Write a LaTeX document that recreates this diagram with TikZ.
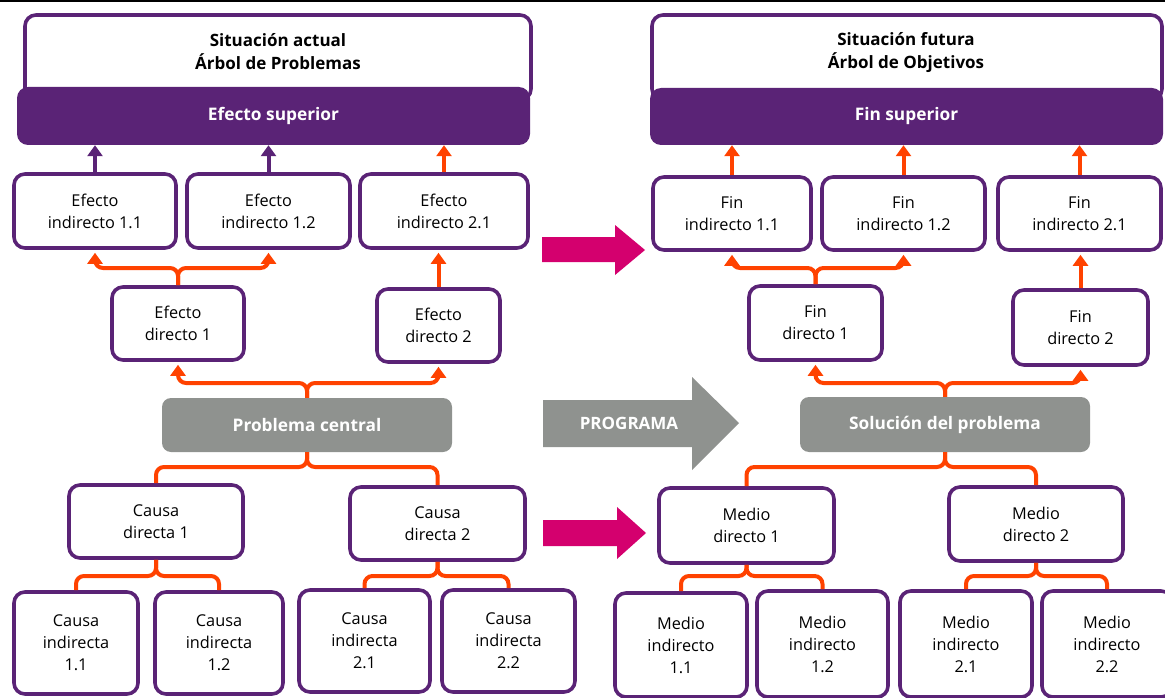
\documentclass[tikz,border=0pt]{standalone}
\usepackage{fontspec}
\setmainfont{Open Sans}
\usetikzlibrary{arrows.meta}
\definecolor{purp}{HTML}{5A2376}
\definecolor{org}{HTML}{FF4200}
\definecolor{gry}{HTML}{8F928F}
\definecolor{mag}{HTML}{D4006E}
\tikzset{
 box/.style={draw=purp, line width=3.6pt, fill=white, rounded corners=11pt, align=center,
   font=\fontsize{16.3}{22}\selectfont, text=black, inner sep=0pt},
 bar/.style={fill=purp, rounded corners=11pt, font=\bfseries\fontsize{17.3}{20}\selectfont, text=white, inner sep=0pt},
 core/.style={fill=gry, rounded corners=9pt, font=\bfseries\fontsize{17.3}{20}\selectfont, text=white, inner sep=0pt},
 ttl/.style={align=center, font=\bfseries\fontsize{17}{23}\selectfont, text=black, inner sep=0pt},
 conn/.style={draw=org, line width=4pt, rounded corners=8pt, -{Triangle[width=15pt,length=11pt]}},
 pconn/.style={conn, draw=purp},
 link/.style={draw=org, line width=4pt, rounded corners=8pt},
 bigarrow/.style={fill=mag},
}
\begin{document}
\begin{tikzpicture}[x=1pt,y=-1pt]
\useasboundingbox (0,0) rectangle (1165,698);
\clip (0,0) rectangle (1165,698);
\fill[black] (0,0) rectangle (1165,2.5);
% ---------- left: title
\node[box, minimum width=506pt, minimum height=85pt] (T1box) at (278,57.5) {};
\node[ttl] (T1) at (278,51.5) {Situación actual\\Árbol de Problemas};
\node[bar, minimum width=513pt, minimum height=58pt] (B1) at (273.5,116) {Efecto superior};
% ---------- right: title
\node[box, minimum width=510pt, minimum height=85pt] (T2box) at (907,57.5) {};
\node[ttl] (T2) at (906,52.5) {Situación futura\\Árbol de Objetivos};
\node[bar, minimum width=513pt, minimum height=57pt] (B2) at (906.5,116.5) {Fin superior};
% ---------- left boxes
\node[box, minimum width=162pt, minimum height=74pt] (E11) at (95,211) {Efecto\\indirecto 1.1};
\node[box, minimum width=163pt, minimum height=74pt] (E12) at (268.5,211) {Efecto\\indirecto 1.2};
\node[box, minimum width=168pt, minimum height=74pt] (E21) at (444,211) {Efecto\\indirecto 2.1};
\node[box, minimum width=132pt, minimum height=73pt] (ED1) at (178,323.5) {Efecto\\directo 1};
\node[box, minimum width=123pt, minimum height=73pt] (ED2) at (438.5,325.5) {Efecto\\directo 2};
\node[core, minimum width=290pt, minimum height=54pt] (PC) at (307,425) {Problema central};
\node[box, minimum width=174pt, minimum height=73pt] (CD1) at (156,521.5) {Causa\\directa 1};
\node[box, minimum width=175pt, minimum height=73pt] (CD2) at (437.5,523.5) {Causa\\directa 2};
\node[box, minimum width=124pt, minimum height=102pt] (CI11) at (76,643) {Causa\\indirecta\\1.1};
\node[box, minimum width=128pt, minimum height=102pt] (CI12) at (219,643) {Causa\\indirecta\\1.2};
\node[box, minimum width=131pt, minimum height=102pt] (CI21) at (364.5,641) {Causa\\indirecta\\2.1};
\node[box, minimum width=133pt, minimum height=102pt] (CI22) at (508.5,641) {Causa\\indirecta\\2.2};
% ---------- right boxes
\node[box, minimum width=158pt, minimum height=73pt] (FI11) at (732,213.5) {Fin\\indirecto 1.1};
\node[box, minimum width=163pt, minimum height=73pt] (FI12) at (903.5,213.5) {Fin\\indirecto 1.2};
\node[box, minimum width=163pt, minimum height=73pt] (FI21) at (1079.5,213.5) {Fin\\indirecto 2.1};
\node[box, minimum width=133pt, minimum height=74pt] (FD1) at (815.5,323) {Fin\\directo 1};
\node[box, minimum width=135pt, minimum height=75pt] (FD2) at (1080.5,327.5) {Fin\\directo 2};
\node[core, minimum width=290pt, minimum height=55pt] (SP) at (945,424.5) {Solución del problema};
\node[box, minimum width=175pt, minimum height=75pt] (MD1) at (746.5,525.5) {Medio\\directo 1};
\node[box, minimum width=174pt, minimum height=74pt] (MD2) at (1036,524) {Medio\\directo 2};
\node[box, minimum width=132pt, minimum height=104pt] (MI11) at (681,645) {Medio\\indirecto\\1.1};
\node[box, minimum width=131pt, minimum height=106pt] (MI12) at (822.5,644) {Medio\\indirecto\\1.2};
\node[box, minimum width=132pt, minimum height=106pt] (MI21) at (966,644) {Medio\\indirecto\\2.1};
\node[box, minimum width=130pt, minimum height=106pt] (MI22) at (1107,644) {Medio\\indirecto\\2.2};
% ---------- levels
\coordinate (l268) at (0,268);
\coordinate (l383) at (0,383);
\coordinate (l467) at (0,467);
\coordinate (l576) at (0,576);
% ---------- left connectors
\draw[pconn] (E11.north) -- (E11.north |- B1.south);
\draw[pconn] (E12.north) -- (E12.north |- B1.south);
\draw[conn] (E21.north) -- (E21.north |- B1.south);
\draw[conn] (ED1.north) -- (ED1.north |- l268) -- (E11.south |- l268) -- ([yshift=-3pt]E11.south);
\draw[conn] (ED1.north) -- (ED1.north |- l268) -- (E12.south |- l268) -- ([yshift=-3pt]E12.south);
\draw[conn] (ED2.north) -- ([yshift=-3pt]ED2.north |- E21.south);
\draw[conn] (PC.north) -- (PC.north |- l383) -- (ED1.south |- l383) -- ([yshift=-3pt]ED1.south);
\draw[conn] (PC.north) -- (PC.north |- l383) -- (ED2.south |- l383) -- ([yshift=-3pt]ED2.south);
\draw[link] (PC.south) -- (PC.south |- l467) -- (CD1.north |- l467) -- (CD1.north);
\draw[link] (PC.south) -- (PC.south |- l467) -- (CD2.north |- l467) -- (CD2.north);
\draw[link] (CD1.south) -- (CD1.south |- l576) -- (CI11.north |- l576) -- (CI11.north);
\draw[link] (CD1.south) -- (CD1.south |- l576) -- (CI12.north |- l576) -- (CI12.north);
\draw[link] (CD2.south) -- (CD2.south |- l576) -- (CI21.north |- l576) -- (CI21.north);
\draw[link] (CD2.south) -- (CD2.south |- l576) -- (CI22.north |- l576) -- (CI22.north);
% ---------- right connectors
\draw[conn] (FI11.north) -- (FI11.north |- B2.south);
\draw[conn] (FI12.north) -- (FI12.north |- B2.south);
\draw[conn] (FI21.north) -- (FI21.north |- B2.south);
\draw[conn] (FD1.north) -- (FD1.north |- l268) -- (FI11.south |- l268) -- ([yshift=-3pt]FI11.south);
\draw[conn] (FD1.north) -- (FD1.north |- l268) -- (FI12.south |- l268) -- ([yshift=-3pt]FI12.south);
\draw[conn] (FD2.north) -- ([yshift=-3pt]FD2.north |- FI21.south);
\draw[conn] (SP.north) -- (SP.north |- l383) -- (FD1.south |- l383) -- ([yshift=-3pt]FD1.south);
\draw[conn] (SP.north) -- (SP.north |- l383) -- (FD2.south |- l383) -- ([yshift=-3pt]FD2.south);
\draw[link] (SP.south) -- (SP.south |- l467) -- (MD1.north |- l467) -- (MD1.north);
\draw[link] (SP.south) -- (SP.south |- l467) -- (MD2.north |- l467) -- (MD2.north);
\draw[link] (MD1.south) -- (MD1.south |- l576) -- (MI11.north |- l576) -- (MI11.north);
\draw[link] (MD1.south) -- (MD1.south |- l576) -- (MI12.north |- l576) -- (MI12.north);
\draw[link] (MD2.south) -- (MD2.south |- l576) -- (MI21.north |- l576) -- (MI21.north);
\draw[link] (MD2.south) -- (MD2.south |- l576) -- (MI22.north |- l576) -- (MI22.north);
% ---------- middle arrows
\fill[bigarrow] (542,237) -- (615,237) -- (615,225) -- (645,250) -- (615,275) -- (615,262) -- (542,262) -- cycle;
\fill[bigarrow] (543,520) -- (617,520) -- (617,507) -- (646,533) -- (617,559) -- (617,546) -- (543,546) -- cycle;
\fill[gry] (543,400) -- (692,400) -- (692,377) -- (739,423) -- (692,470) -- (692,447) -- (543,447) -- cycle;
\node[font=\bfseries\fontsize{17}{20}\selectfont, text=white] (PRG) at (629,423) {PROGRAMA};
\end{tikzpicture}
\end{document}
